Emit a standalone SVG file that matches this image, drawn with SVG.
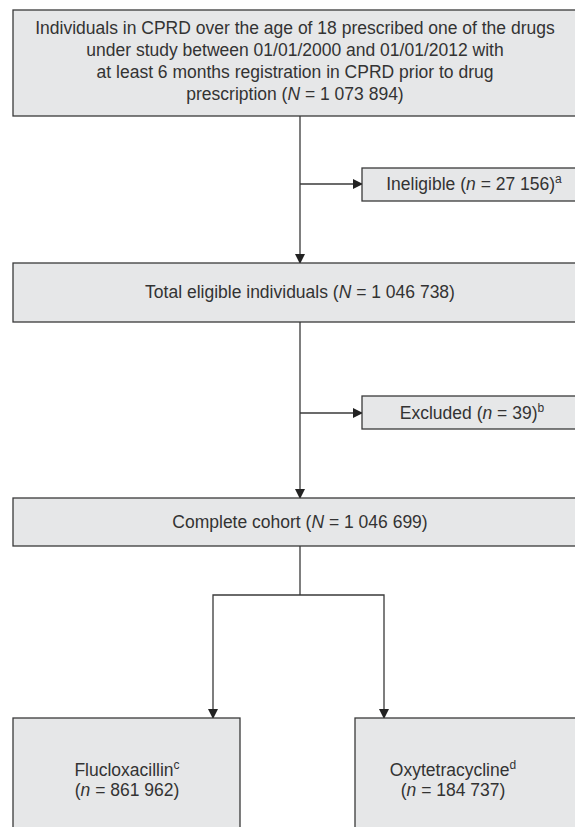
<svg xmlns="http://www.w3.org/2000/svg" width="575" height="827" viewBox="0 0 575 827">
<style>
.box{fill:#e6e7e8;stroke:#3a3a3a;stroke-width:1.3}
.t{font-family:"Liberation Sans",Arial,sans-serif;font-size:17.5px;fill:#333;text-anchor:middle}
.ln{fill:none;stroke:#3a3a3a;stroke-width:1.3}
.i{font-style:italic}
.sup{font-size:12px}
</style>
<defs>
<marker id="ah" markerWidth="10" markerHeight="10" refX="9" refY="5" orient="auto" markerUnits="userSpaceOnUse">
<path d="M0,0 L10,5 L0,10 Z" fill="#222"/>
</marker>
</defs>
<g id="connectors">
<line class="ln" x1="300" y1="116" x2="300" y2="263" marker-end="url(#ah)"/>
<line class="ln" x1="300" y1="184" x2="362" y2="184" marker-end="url(#ah)"/>
<line class="ln" x1="300" y1="322" x2="300" y2="498" marker-end="url(#ah)"/>
<line class="ln" x1="300" y1="413" x2="362" y2="413" marker-end="url(#ah)"/>
<line class="ln" x1="300" y1="546" x2="300" y2="595"/>
<polyline class="ln" points="213,700 213,595 384,595 384,700"/>
<line class="ln" x1="213" y1="700" x2="213" y2="718" marker-end="url(#ah)"/>
<line class="ln" x1="384" y1="700" x2="384" y2="718" marker-end="url(#ah)"/>
</g>
<g id="n1">
<rect class="box" x="13" y="10" width="580" height="106"/>
<text class="t" x="295" y="34">Individuals in CPRD over the age of 18 prescribed one of the drugs</text>
<text class="t" x="295" y="56">under study between 01/01/2000 and 01/01/2012 with</text>
<text class="t" x="295" y="78">at least 6 months registration in CPRD prior to drug</text>
<text class="t" x="295" y="100">prescription (<tspan class="i">N</tspan> = 1 073 894)</text>
</g>
<g id="n2">
<rect class="box" x="362" y="168" width="230" height="33"/>
<text class="t" x="474" y="190">Ineligible (<tspan class="i">n</tspan> = 27 156)<tspan class="sup" dy="-7">a</tspan></text>
</g>
<g id="n3">
<rect class="box" x="13" y="263" width="580" height="59"/>
<text class="t" x="300" y="298">Total eligible individuals (<tspan class="i">N</tspan> = 1 046 738)</text>
</g>
<g id="n4">
<rect class="box" x="362" y="396" width="230" height="33"/>
<text class="t" x="472" y="419">Excluded (<tspan class="i">n</tspan> = 39)<tspan class="sup" dy="-7">b</tspan></text>
</g>
<g id="n5">
<rect class="box" x="13" y="498" width="580" height="48"/>
<text class="t" x="300" y="528">Complete cohort (<tspan class="i">N</tspan> = 1 046 699)</text>
</g>
<g id="n6">
<rect class="box" x="13" y="718" width="227" height="120"/>
<text class="t" x="127" y="776">Flucloxacillin<tspan class="sup" dy="-7">c</tspan></text>
<text class="t" x="127" y="796">(<tspan class="i">n</tspan> = 861 962)</text>
</g>
<g id="n7">
<rect class="box" x="355" y="718" width="240" height="120"/>
<text class="t" x="453" y="776">Oxytetracycline<tspan class="sup" dy="-7">d</tspan></text>
<text class="t" x="453" y="796">(<tspan class="i">n</tspan> = 184 737)</text>
</g>
</svg>
